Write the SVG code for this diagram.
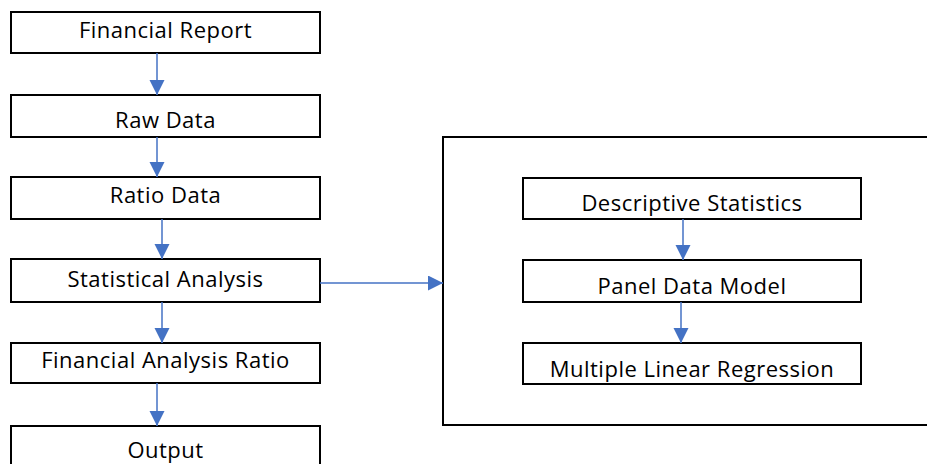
<svg xmlns="http://www.w3.org/2000/svg" width="927" height="464" viewBox="0 0 927 464">
<style>
.box{fill:#fff;stroke:#000;stroke-width:2}
.lbl{font-family:"Open Sans","Liberation Sans",sans-serif;font-size:22px;letter-spacing:0.5px;fill:#000;text-anchor:middle}
.con{stroke:#4472C4;stroke-width:1.5;fill:none}
</style>
<defs>
<marker id="ah" markerUnits="userSpaceOnUse" markerWidth="16" markerHeight="16" refX="15" refY="7.5" orient="auto" viewBox="0 0 16 16">
<path d="M0,0 L15,7.5 L0,15 Z" fill="#4472C4"/>
</marker>
</defs>
<rect class="box" x="443" y="137" width="500" height="288"/>
<g id="financial-report"><rect class="box" x="11" y="12" width="309" height="41"/><text class="lbl" x="165.5" y="38">Financial Report</text></g>
<g id="raw-data"><rect class="box" x="11" y="95" width="309" height="42"/><text class="lbl" x="165.5" y="128">Raw Data</text></g>
<g id="ratio-data"><rect class="box" x="11" y="177" width="309" height="42"/><text class="lbl" x="165.5" y="203">Ratio Data</text></g>
<g id="statistical-analysis"><rect class="box" x="11" y="259" width="309" height="43"/><text class="lbl" x="165.5" y="287">Statistical Analysis</text></g>
<g id="financial-analysis-ratio"><rect class="box" x="11" y="343" width="309" height="40"/><text class="lbl" x="165.5" y="368">Financial Analysis Ratio</text></g>
<g id="output"><rect class="box" x="11" y="426" width="309" height="50"/><text class="lbl" x="165.5" y="458">Output</text></g>
<g id="descriptive-statistics"><rect class="box" x="523" y="178" width="338" height="41"/><text class="lbl" x="692" y="211">Descriptive Statistics</text></g>
<g id="panel-data-model"><rect class="box" x="523" y="260" width="338" height="42"/><text class="lbl" x="692" y="294">Panel Data Model</text></g>
<g id="multiple-linear-regression"><rect class="box" x="523" y="343" width="338" height="41"/><text class="lbl" x="692" y="377">Multiple Linear Regression</text></g>
<g id="connectors">
<line class="con" x1="157" y1="53" x2="157" y2="95" marker-end="url(#ah)"/>
<line class="con" x1="157" y1="137" x2="157" y2="177" marker-end="url(#ah)"/>
<line class="con" x1="162" y1="219" x2="162" y2="259" marker-end="url(#ah)"/>
<line class="con" x1="162" y1="302" x2="162" y2="343" marker-end="url(#ah)"/>
<line class="con" x1="157" y1="383" x2="157" y2="426" marker-end="url(#ah)"/>
<line class="con" x1="320" y1="283" x2="443" y2="283" marker-end="url(#ah)"/>
<line class="con" x1="683" y1="219" x2="683" y2="260" marker-end="url(#ah)"/>
<line class="con" x1="681" y1="302" x2="681" y2="343" marker-end="url(#ah)"/>
</g>
</svg>
